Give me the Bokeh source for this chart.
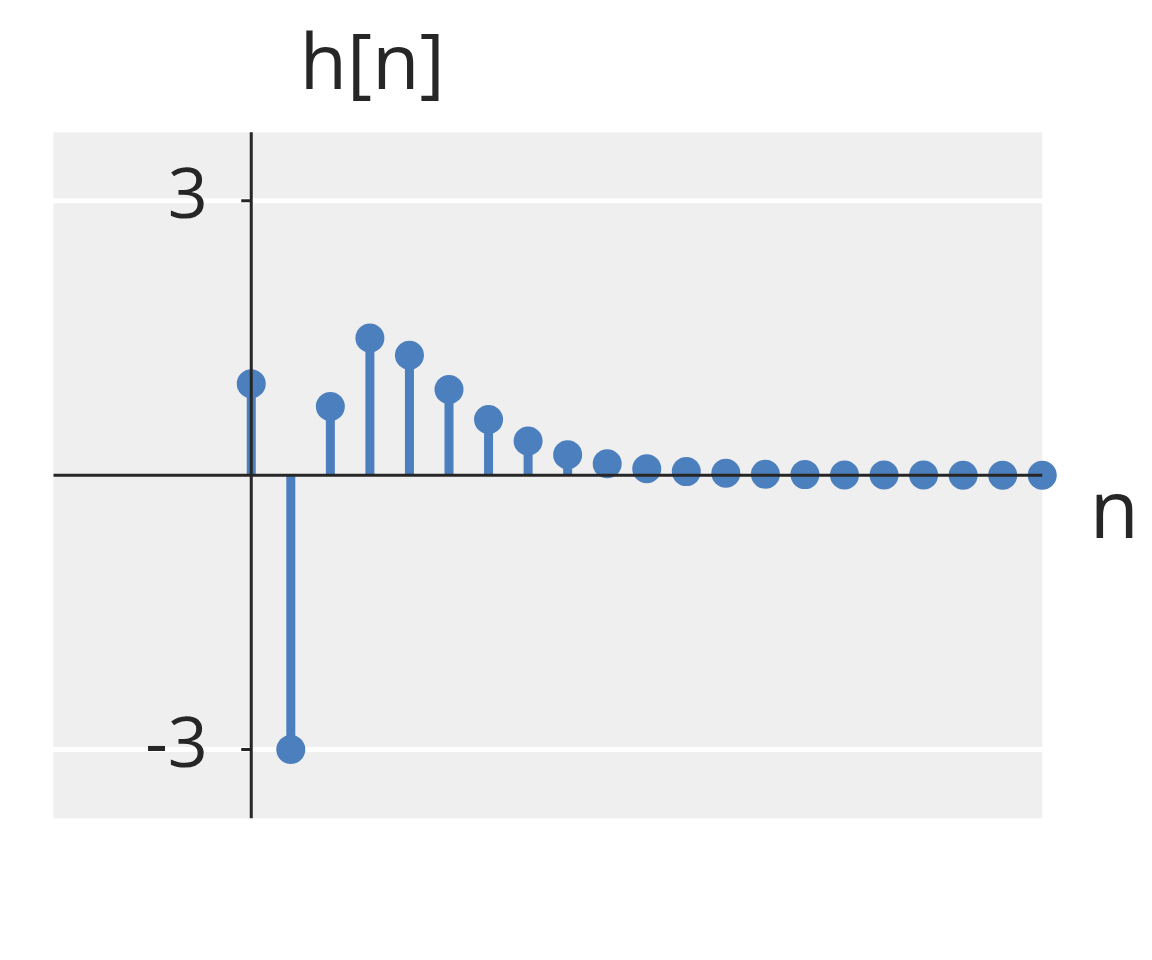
from bokeh.plotting import figure
from bokeh.models import Range1d
from bokeh.core.properties import value
from bokeh.embed import file_html
from bokeh.resources import INLINE

# Data
n_vals = list(range(0, 21))
h_vals = [1.0, -3.0, 0.75, 1.5, 1.3125, 0.9375, 0.609, 0.375, 0.223, 0.125,
          0.0703, 0.0391, 0.0215, 0.0117, 0.0063, 0.0034, 0.0018, 0.001,
          0.0005, 0.0003, 0.0001]
y_ticks = [3, -3]
y_tick_labels = ["3", "-3"]
title_text = "h[n]"
xlabel_text = "n"

X_MIN, X_MAX = -5, 20
Y_LIM = 3.75

STEM = "#4C7FBD"
AXIS = "#262626"
BG = "#EFEFEF"
FONT = "Open Sans"

PX_X = 39.55   # pixels per unit n
PX_Y = 91.45   # pixels per unit h
W, H = 1144, 944
x0 = -5 - 53 / PX_X
y1 = 474.7 / PX_Y
p = figure(width=W, height=H, output_backend="svg", toolbar_location=None,
           x_range=Range1d(x0, x0 + W / PX_X), y_range=Range1d(y1 - H / PX_Y, y1),
           min_border=0, min_border_left=0, min_border_right=0,
           min_border_top=0, min_border_bottom=0)
p.xaxis.visible = False
p.yaxis.visible = False
p.grid.visible = False
p.outline_line_color = None
p.background_fill_color = "white"
p.border_fill_color = "white"

# axes background
p.quad(left=[X_MIN], right=[X_MAX], bottom=[-Y_LIM], top=[Y_LIM],
       fill_color=BG, line_color=None)

# grid lines
p.segment(x0=[X_MIN] * len(y_ticks), x1=[X_MAX] * len(y_ticks), y0=y_ticks, y1=y_ticks,
          line_color="white", line_width=5)

# stems and markers
p.segment(x0=n_vals, x1=n_vals, y0=[0] * len(n_vals), y1=h_vals,
          line_color=STEM, line_width=9)
p.scatter(x=n_vals, y=h_vals, size=29, fill_color=STEM, line_color=None)

# axis lines
p.segment(x0=[0], x1=[0], y0=[-Y_LIM], y1=[Y_LIM], line_color=AXIS, line_width=3)
p.segment(x0=[X_MIN], x1=[X_MAX], y0=[0], y1=[0], line_color=AXIS, line_width=3)

# tick marks
p.segment(x0=[-0.253] * len(y_ticks), x1=[0] * len(y_ticks), y0=y_ticks, y1=y_ticks,
          line_color=AXIS, line_width=3)

SHIFT = 0.29
# tick labels
p.text(x=[-1.10] * len(y_ticks), y=[t - 0.207 + SHIFT for t in y_ticks],
       text=y_tick_labels, text_align="right", text_baseline="alphabetic",
       text_font=value(FONT), text_font_size="70px", text_color=AXIS)

# title and x label
p.text(x=[3.06], y=[4.261 + SHIFT], text=[title_text], text_align="center",
       text_baseline="alphabetic", text_font=value(FONT), text_font_size="77px",
       text_color=AXIS)
p.text(x=[21.82], y=[-0.6375 + SHIFT], text=[xlabel_text], text_align="center",
       text_baseline="alphabetic", text_font=value(FONT), text_font_size="80px",
       text_color=AXIS)

open("out.html", "w").write(file_html(p, INLINE))
